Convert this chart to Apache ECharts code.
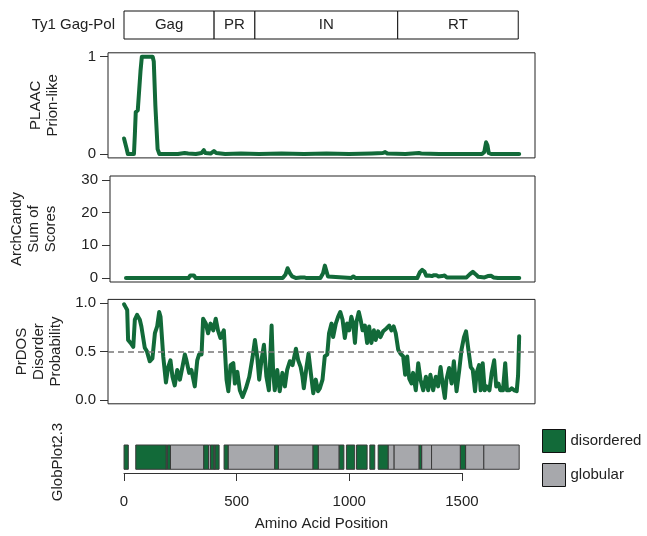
<!DOCTYPE html>
<html><head><meta charset="utf-8">
<script src="https://cdn.jsdelivr.net/npm/echarts@6/dist/echarts.min.js"></script>
<style>html,body{margin:0;padding:0;background:#fff}#c{width:647px;height:536px}</style>
</head><body><div id="c"></div>
<script>
// ---------- data ----------
const proteinLabel = 'Ty1 Gag-Pol';
const domainNames = ['Gag', 'PR', 'IN', 'RT'];
const domainStarts = [0, 400, 581, 1215];
const domainEnds = [400, 581, 1215, 1750];

const plaac = [[1,0.16],[8,0.17],[12,0.06],[18,0],[45,0],[49,0.2],[53,0.43],[62,0.45],[68,0.47],[74,0.85],[80,1],[128,1],[133,0.95],[140,0.5],[150,0.05],[158,0],[200,0],[240,0],[270,0.01],[278,0.02],[286,0.005],[320,0],[345,0.01],[355,0.04],[362,0.01],[385,0.005],[400,0.03],[410,0.01],[450,0],[520,0.005],[600,0],[700,0.005],[800,0],[900,0.005],[1000,0],[1100,0.005],[1150,0.01],[1160,0.02],[1170,0.005],[1250,0],[1310,0.01],[1320,0.005],[1400,0],[1590,0],[1600,0.02],[1608,0.12],[1614,0.09],[1620,0.01],[1630,0],[1755,0]];

const archCandy = [[1,0],[280,0],[288,0.8],[296,1.4],[304,0.8],[312,0],[700,0],[712,1],[722,3],[732,1.5],[742,0.5],[760,0],[780,0.2],[788,0.8],[796,0.2],[806,0],[868,0],[880,1.5],[888,3.8],[896,3.4],[902,0.5],[910,0],[1005,0],[1015,0.5],[1025,0],[1300,0],[1312,1.8],[1322,2.5],[1332,2],[1340,0.7],[1352,0.8],[1365,0.6],[1375,0.9],[1385,0.9],[1395,0.5],[1410,0.6],[1422,0.8],[1432,0.2],[1520,0.2],[1535,1.2],[1548,1.9],[1560,1.2],[1572,0.4],[1600,0.2],[1615,0.6],[1630,0.7],[1640,0.2],[1660,0],[1755,0]];

const prdos = [[1,0.99],[8,0.96],[15,0.93],[19,0.62],[30,0.59],[42,0.55],[49,0.83],[59,0.88],[71,0.83],[78,0.76],[93,0.54],[103,0.50],[115,0.40],[127,0.43],[138,0.69],[148,0.76],[157,0.91],[163,0.86],[175,0.45],[187,0.18],[197,0.34],[207,0.41],[216,0.24],[226,0.15],[237,0.31],[249,0.21],[260,0.34],[271,0.47],[278,0.41],[290,0.28],[300,0.31],[315,0.14],[326,0.41],[334,0.47],[345,0.47],[352,0.84],[364,0.79],[374,0.69],[385,0.79],[397,0.72],[408,0.84],[418,0.72],[429,0.64],[444,0.72],[456,0.21],[464,0.09],[474,0.36],[486,0.38],[493,0.17],[504,0.29],[515,0.10],[527,0.03],[542,0.12],[557,0.24],[572,0.45],[582,0.62],[592,0.45],[601,0.21],[611,0.41],[622,0.57],[633,0.24],[644,0.10],[656,0.77],[663,0.28],[670,0.10],[681,0.31],[692,0.09],[704,0.28],[715,0.14],[725,0.31],[737,0.40],[749,0.36],[764,0.53],[774,0.41],[785,0.34],[793,0.24],[799,0.12],[811,0.34],[820,0.48],[830,0.28],[841,0.07],[852,0.21],[862,0.09],[870,0.12],[882,0.21],[892,0.45],[903,0.47],[911,0.69],[922,0.79],[929,0.65],[941,0.79],[951,0.86],[961,0.91],[971,0.83],[981,0.64],[991,0.79],[1000,0.72],[1010,0.86],[1018,0.79],[1026,0.59],[1033,0.81],[1043,0.91],[1051,0.83],[1060,0.72],[1070,0.77],[1080,0.59],[1089,0.76],[1099,0.59],[1110,0.72],[1118,0.62],[1129,0.71],[1139,0.65],[1151,0.71],[1166,0.74],[1178,0.77],[1188,0.72],[1198,0.76],[1207,0.69],[1218,0.52],[1228,0.48],[1240,0.45],[1249,0.26],[1258,0.45],[1267,0.22],[1277,0.17],[1284,0.28],[1296,0.10],[1307,0.38],[1317,0.21],[1329,0.10],[1341,0.24],[1351,0.10],[1361,0.26],[1373,0.10],[1385,0.24],[1395,0.14],[1406,0.34],[1415,0.17],[1425,0.02],[1432,0.21],[1444,0.33],[1455,0.17],[1465,0.40],[1477,0.09],[1489,0.31],[1499,0.52],[1510,0.65],[1519,0.71],[1529,0.53],[1540,0.34],[1549,0.31],[1559,0.09],[1566,0.28],[1577,0.36],[1584,0.10],[1593,0.38],[1602,0.10],[1611,0.14],[1623,0.10],[1633,0.28],[1644,0.41],[1653,0.14],[1663,0.17],[1671,0.10],[1683,0.10],[1693,0.38],[1701,0.10],[1712,0.10],[1722,0.12],[1733,0.10],[1744,0.09],[1750,0.25],[1755,0.66]];

const disorderedSegs = [[1,20],[53,188],[193,207],[355,376],[385,400],[405,423],[445,463],[670,686],[840,863],[956,977],[988,1025],[1033,1080],[1092,1114],[1129,1173],[1311,1322],[1494,1517]];
const globularSegs = [[188,193],[207,355],[376,385],[400,405],[463,670],[686,840],[863,956],[1173,1200],[1200,1311],[1322,1366],[1366,1494],[1517,1598],[1598,1755]];

const xTicks = [0, 500, 1000, 1500];
const plaacTicks = [0, 1];
const archTicks = [0, 10, 20, 30];
const prdosTicks = [0, 0.5, 1];
const prdosThreshold = 0.5;

// ---------- style ----------
const GREEN = '#126a39';
const GRAY = '#a7a8ac';
const TXT = '#222';
const FONT = '"Liberation Sans", Arial, sans-serif';
const FS = 15;
const X_MIN = -70.2, X_MAX = 1825.2;
const PL = 108, PW = 427;
const PX = PW / (X_MAX - X_MIN);

const chart = echarts.init(document.getElementById('c'), null, {renderer: 'canvas'});

function hiddenX(gi, extra) {
  return Object.assign({
    gridIndex: gi, type: 'value', min: X_MIN, max: X_MAX,
    axisLine: {show: false, onZero: false}, axisTick: {show: false}, axisLabel: {show: false}, splitLine: {show: false}
  }, extra || {});
}
function panelY(gi, min, max, ticks, fmt, name, gap) {
  return {
    gridIndex: gi, type: 'value', min: min, max: max,
    axisLine: {show: false, onZero: false},
    axisTick: {show: true, length: 8, customValues: ticks, lineStyle: {color: '#333', width: 1}},
    axisLabel: {show: true, customValues: ticks, margin: 12, fontSize: FS, color: TXT, fontFamily: FONT, formatter: fmt},
    splitLine: {show: false},
    name: name, nameLocation: 'middle', nameRotate: 90, nameGap: gap,
    nameTextStyle: {fontSize: FS, color: TXT, fontFamily: FONT, lineHeight: 17, align: 'center'}
  };
}

function segRender(color) {
  return function (params, api) {
    const p0 = api.coord([api.value(0), 1]);
    const p1 = api.coord([api.value(1), 0]);
    return {type: 'rect', shape: {x: p0[0], y: p0[1], width: p1[0] - p0[0], height: p1[1] - p0[1]},
      style: {fill: color, stroke: '#3a3a3a', lineWidth: 1}};
  };
}

const option = {
  animation: false,
  backgroundColor: '#fff',
  textStyle: {fontFamily: FONT},
  grid: [
    {left: 124, top: 11, width: 1750 * PX, height: 28},
    {left: PL, top: 52.8, width: PW, height: 105.1, show: true, borderColor: '#222', borderWidth: 1},
    {left: PL, top: 176, width: PW, height: 106, show: true, borderColor: '#222', borderWidth: 1},
    {left: PL, top: 299.4, width: PW, height: 104.4, show: true, borderColor: '#222', borderWidth: 1},
    {left: PL, top: 445, width: PW, height: 34},
    {left: 124, top: 472, width: 1500 * PX, height: 1}
  ],
  xAxis: [
    {gridIndex: 0, type: 'value', min: 0, max: 1750, axisLine: {show: false, onZero: false}, axisTick: {show: false}, axisLabel: {show: false}, splitLine: {show: false}},
    hiddenX(1), hiddenX(2), hiddenX(3),
    hiddenX(4, {name: 'Amino Acid Position', nameLocation: 'middle', nameGap: 37,
      nameTextStyle: {fontSize: FS, color: TXT, fontFamily: FONT}}),
    {gridIndex: 5, type: 'value', min: 0, max: 1500, interval: 500,
      axisLine: {show: true, onZero: false, lineStyle: {color: '#333', width: 1}},
      axisTick: {show: true, length: 8, customValues: xTicks, lineStyle: {color: '#333', width: 1}},
      axisLabel: {show: true, customValues: xTicks, margin: 21, fontSize: FS, color: TXT, fontFamily: FONT, formatter: v => String(v)},
      splitLine: {show: false}}
  ],
  yAxis: [
    {gridIndex: 0, type: 'value', min: 0, max: 1, axisLine: {show: false, onZero: false}, axisTick: {show: false}, axisLabel: {show: false}, splitLine: {show: false},
      name: proteinLabel, nameLocation: 'middle', nameRotate: 0, nameGap: 9,
      nameTextStyle: {fontSize: FS, color: TXT, fontFamily: FONT}},
    panelY(1, -0.04, 1.04, plaacTicks, v => String(v), 'PLAAC\nPrion-like', 47),
    panelY(2, -1.2, 31.2, archTicks, v => String(v), 'ArchCandy\nSum of\nScores', 51),
    panelY(3, -0.04, 1.04, prdosTicks, v => v.toFixed(1), 'PrDOS\nDisorder\nProbability', 44),
    {gridIndex: 4, type: 'value', min: -0.4, max: 1, axisLine: {show: false, onZero: false}, axisTick: {show: false}, axisLabel: {show: false}, splitLine: {show: false},
      name: 'GlobPlot2.3', nameLocation: 'middle', nameRotate: 90, nameGap: 43,
      nameTextStyle: {fontSize: FS, color: TXT, fontFamily: FONT}},
    {gridIndex: 5, type: 'value', min: 0, max: 1, show: false}
  ],
  legend: {
    data: ['disordered', 'globular'], orient: 'vertical', left: 537, top: 424,
    itemWidth: 23, itemHeight: 23, itemGap: 10, icon: 'rect',
    itemStyle: {borderColor: '#111', borderWidth: 1},
    textStyle: {fontSize: FS, color: TXT, fontFamily: FONT}, selectedMode: false
  },
  series: [
    {type: 'custom', name: 'domains', xAxisIndex: 0, yAxisIndex: 0, silent: true,
      data: domainStarts.map((s, i) => [s, domainEnds[i]]),
      renderItem: function (params, api) {
        const p0 = api.coord([api.value(0), 1]);
        const p1 = api.coord([api.value(1), 0]);
        return {type: 'group', children: [
          {type: 'rect', shape: {x: p0[0], y: p0[1], width: p1[0] - p0[0], height: p1[1] - p0[1]},
            style: {fill: '#fff', stroke: '#111', lineWidth: 1}},
          {type: 'text', style: {text: domainNames[params.dataIndex], x: (p0[0] + p1[0]) / 2, y: (p0[1] + p1[1]) / 2,
            align: 'center', verticalAlign: 'middle', fontSize: FS, fontFamily: FONT, fill: TXT}}
        ]};
      }},
    {type: 'line', name: 'PLAAC', xAxisIndex: 1, yAxisIndex: 1, data: plaac, showSymbol: false, silent: true,
      lineStyle: {color: GREEN, width: 4, cap: 'round', join: 'round'}},
    {type: 'line', name: 'ArchCandy', xAxisIndex: 2, yAxisIndex: 2, data: archCandy, showSymbol: false, silent: true,
      lineStyle: {color: GREEN, width: 4, cap: 'round', join: 'round'}},
    {type: 'line', name: 'PrDOS', xAxisIndex: 3, yAxisIndex: 3, data: prdos, showSymbol: false, silent: true,
      lineStyle: {color: GREEN, width: 4, cap: 'round', join: 'round'},
      markLine: {silent: true, symbol: 'none', label: {show: false},
        lineStyle: {color: '#777', width: 1.5, type: [6, 4]}, data: [{yAxis: prdosThreshold}]}},
    {type: 'custom', name: 'globular', xAxisIndex: 4, yAxisIndex: 4, silent: true,
      itemStyle: {color: GRAY}, data: globularSegs, renderItem: segRender(GRAY)},
    {type: 'custom', name: 'disordered', xAxisIndex: 4, yAxisIndex: 4, silent: true,
      itemStyle: {color: GREEN}, data: disorderedSegs, renderItem: segRender(GREEN)},
    {type: 'line', xAxisIndex: 5, yAxisIndex: 5, data: [], silent: true}
  ]
};
chart.setOption(option);
</script>
</body></html>
